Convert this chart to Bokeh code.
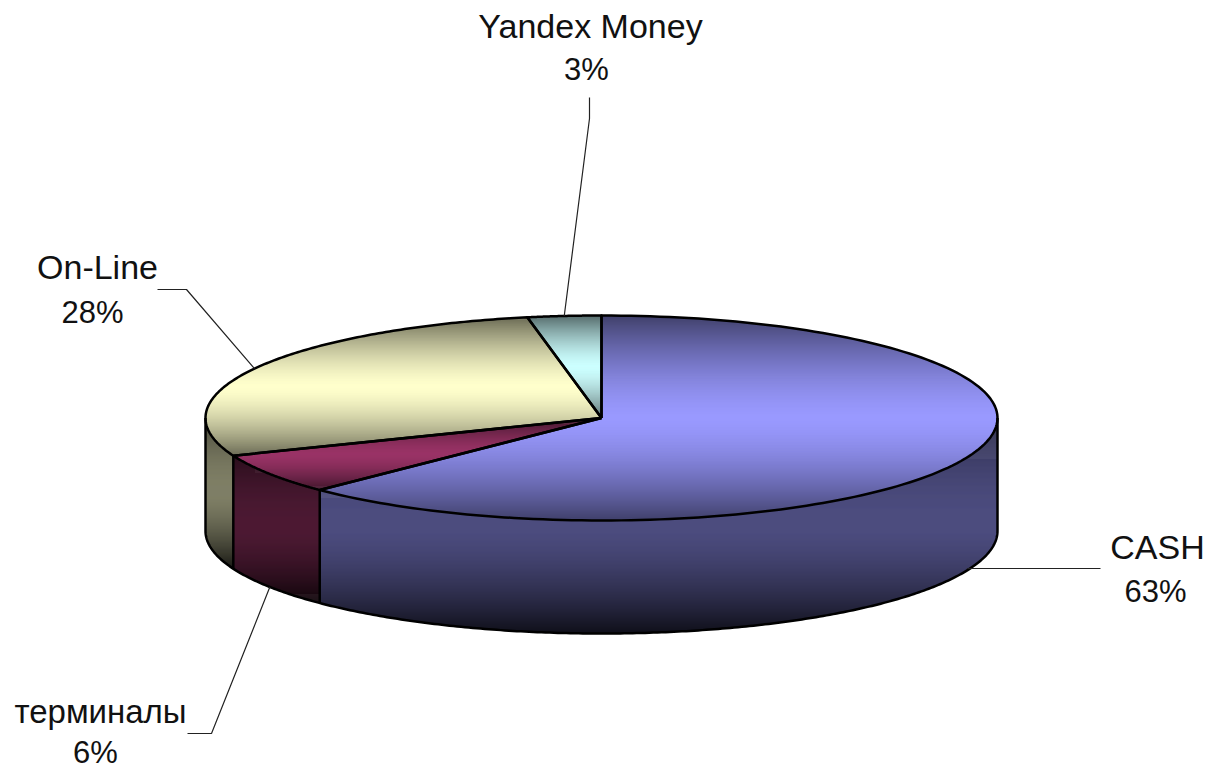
import numpy as np
from bokeh.plotting import figure
from bokeh.core.properties import value
from bokeh.embed import file_html
from bokeh.resources import INLINE

# --- chart data -------------------------------------------------------------
categories = ["CASH", "терминалы", "On-Line", "Yandex Money"]
shares = [62.6, 6.4, 28.0, 3.0]
percent_labels = ["63%", "6%", "28%", "3%"]

# --- style and layout -------------------------------------------------------
base_colors = [(153, 153, 255), (153, 51, 102), (255, 255, 204), (204, 255, 255)]
CX, CY, RX, RY, DEPTH = 601.0, 417.5, 396.0, 102.5, 113.0
name_pos = [(1157, 546), (100, 711), (97, 266), (590, 25)]
name_size = ["34px", "33px", "34px", "34px"]
pct_pos = [(1155, 591), (95, 752), (92, 312), (586, 69)]
elbows = [[(1100, 568)],
          [(211, 733), (187, 733)],
          [(186, 289), (157, 289)],
          [(589, 118), (589, 97)]]

W, H = 1209, 771
p = figure(width=W, height=H, x_range=(0, W), y_range=(H, 0),
           output_backend="svg", toolbar_location=None, min_border=0,
           background_fill_color="white", border_fill_color="white",
           outline_line_color=None)
p.axis.visible = False
p.grid.visible = False

fr = np.array(shares, float) / sum(shares)
edges = np.concatenate([[0], np.cumsum(fr)]) * 2 * np.pi


def ell(t, dy=0.0):
    t = np.asarray(t, float)
    return CX + RX * np.sin(t), CY - RY * np.cos(t) + dy


def top_factor(d):
    return 0.42 + 0.58 * (1 - np.abs(d) ** 1.5)


def side_factor(d):
    if d < 0:
        return 0.27 + (0.50 - 0.27) * (1 - abs(d) ** 2)
    return 0.10 + (0.50 - 0.10) * (1 - abs(d) ** 1.5)


def shade(col, f):
    return "#%02x%02x%02x" % tuple(int(min(255, round(c * f))) for c in col)


# pixel-grid classification of the pie into sectors, then horizontal runs
xs = np.arange(CX - RX - 1, CX + RX + 1, 0.5)
u = (xs - CX) / RX
inside_u = np.abs(u) <= 1
lower = CY + RY * np.sqrt(np.clip(1 - u ** 2, 0, 1))
left, right, top, bottom, colors = [], [], [], [], []

# bounding boxes of top sectors and of side sectors
top_box, side_box = [], []
for i in range(len(shares)):
    t = np.linspace(edges[i], edges[i + 1], 200)
    _, yy = ell(t)
    yy = np.concatenate([yy, [CY]])
    top_box.append((yy.min(), yy.max()))
    vis = t[(t >= np.pi / 2) & (t <= 3 * np.pi / 2)]
    if len(vis):
        _, ys = ell(vis)
        side_box.append((ys.min(), ys.max() + DEPTH))
    else:
        side_box.append(None)


def add_runs(y, labels, boxes, fn):
    change = np.flatnonzero(np.diff(labels)) + 1
    starts = np.concatenate([[0], change])
    ends = np.concatenate([change, [len(labels)]])
    for a, b in zip(starts, ends):
        k = labels[a]
        if k < 0:
            continue
        lo, hi = boxes[k]
        d = np.clip((y + 0.5 - (lo + hi) / 2) / ((hi - lo) / 2), -1, 1)
        left.append(xs[a])
        right.append(xs[b - 1] + 0.5)
        top.append(y)
        bottom.append(y + 1.4)
        colors.append(shade(base_colors[k], fn(d)))


for y in np.arange(np.floor(CY - RY) - 1, np.ceil(CY + RY + DEPTH) + 1, 1.0):
    yc = y + 0.5
    v = (yc - CY) / RY
    in_top = inside_u & (u ** 2 + v ** 2 <= 1)
    ang = np.mod(np.arctan2(u, -v), 2 * np.pi)
    top_lab = np.where(in_top, np.clip(np.searchsorted(edges, ang) - 1, 0, 3), -1)
    in_side = inside_u & (~in_top) & (yc >= CY) & (yc >= lower) & (yc <= lower + DEPTH)
    side_ang = np.pi - np.arcsin(np.clip(u, -1, 1))
    side_lab = np.where(in_side, np.clip(np.searchsorted(edges, side_ang) - 1, 0, 3), -1)
    add_runs(y, side_lab, side_box, side_factor)
    add_runs(y, top_lab, top_box, top_factor)

p.quad(left=left, right=right, top=top, bottom=bottom, fill_color=colors,
       line_color=None)

# outlines
out_x, out_y = [], []
for i in range(len(shares)):
    t = np.linspace(edges[i], edges[i + 1], 160)
    ex, ey = ell(t)
    out_x.append([CX] + list(ex) + [CX])
    out_y.append([CY] + list(ey) + [CY])
t = np.linspace(np.pi / 2, 3 * np.pi / 2, 300)
ex, ey = ell(t, DEPTH)
out_x.append(list(ex))
out_y.append(list(ey))
for tv in [np.pi / 2, edges[1], edges[2], 3 * np.pi / 2]:
    ex, ey = ell([tv, tv])
    out_x.append(list(ex))
    out_y.append([ey[0], ey[1] + DEPTH])
p.multi_line(out_x, out_y, line_color="#000000", line_width=2.5, line_join="round")

# leader lines anchored at each sector's middle angle
lead_x, lead_y = [], []
for i in range(len(shares)):
    mid = (edges[i] + edges[i + 1]) / 2
    is_front = np.pi / 2 <= mid <= 3 * np.pi / 2
    ax, ay = ell(mid, DEPTH if is_front else 0.0)
    lead_x.append([float(ax)] + [q[0] for q in elbows[i]])
    ey0 = elbows[i][0][1] if i == 0 else float(ay)
    lead_y.append([ey0] + [q[1] for q in elbows[i]])
p.multi_line(lead_x, lead_y, line_color="#222222", line_width=1.2)

# labels
p.text(x=[q[0] for q in name_pos], y=[q[1] for q in name_pos], text=categories,
       text_font=value("Liberation Sans"), text_font_size=name_size, text_color="#111111",
       text_align="center", text_baseline="middle")
p.text(x=[q[0] for q in pct_pos], y=[q[1] for q in pct_pos], text=percent_labels,
       text_font=value("Liberation Sans"), text_font_size="31px", text_color="#111111",
       text_align="center", text_baseline="middle")

open("out.html", "w").write(file_html(p, INLINE))
